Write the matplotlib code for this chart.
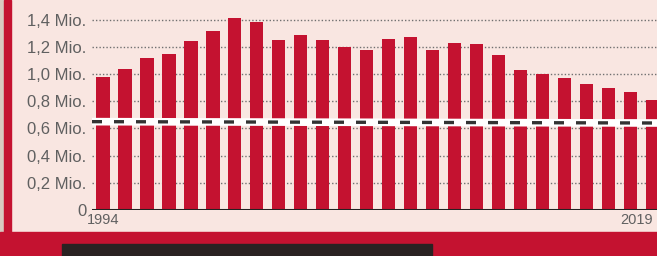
import matplotlib
matplotlib.use("Agg")
import matplotlib.pyplot as plt
from matplotlib.patches import Rectangle
import numpy as np

years = list(range(1994, 2020))
values = [0.98, 1.04, 1.12, 1.15, 1.24, 1.32, 1.41, 1.38, 1.25, 1.29, 1.25, 1.20,
          1.18, 1.26, 1.27, 1.18, 1.23, 1.22, 1.14, 1.03, 1.00, 0.97, 0.93, 0.90,
          0.87, 0.81]
ref_line = [0.65, 0.64]  # dashed reference line (start, end)
yticks = [0, 0.2, 0.4, 0.6, 0.8, 1.0, 1.2, 1.4]
ytick_labels = ["0", "0,2 Mio.", "0,4 Mio.", "0,6 Mio.", "0,8 Mio.", "1,0 Mio.", "1,2 Mio.", "1,4 Mio."]
xtick_show = {1994: "1994", 2019: "2019"}

RED = "#C41230"
PINK = "#F9E6E1"
GRAY = "#606060"

W, H = 657, 256
fig = plt.figure(figsize=(W / 100, H / 100), dpi=100)
fig.patch.set_facecolor(PINK)

# decorative frame (red border left and bottom, dark strip below)
fig.patches.append(Rectangle((0, 0), 4 / W, 1, transform=fig.transFigure, color="#d9c9c0", zorder=0))
fig.patches.append(Rectangle((4 / W, 0), 7 / W, 1, transform=fig.transFigure, color=RED, zorder=0))
fig.patches.append(Rectangle((0, 0), 1, 24 / H, transform=fig.transFigure, color=RED, zorder=0))
fig.patches.append(Rectangle((62 / W, 0), 370 / W, 12 / H, transform=fig.transFigure, color="#2a2222", zorder=0))

# axes: left at 92 px, baseline at y=210 px
ax_left, ax_right = 92, 657
ax_bottom_px, ax_top_px = 210, 0
ax = fig.add_axes([ax_left / W, 1 - ax_bottom_px / H, (ax_right - ax_left) / W, (ax_bottom_px - ax_top_px) / H])
ax.set_facecolor("none")

x = np.arange(len(years))
ax.bar(x, values, width=0.6, color=RED, zorder=2)

for t in yticks[1:]:
    ax.axhline(t, color="#707070", linestyle=(0, (1, 1.5)), linewidth=1.0, zorder=1)
ax.axhline(0, color="#222222", linewidth=2.2, zorder=4)

line_x = [x[0] - 0.5, x[-1] + 0.5]
ax.plot(line_x, ref_line, color="white", linewidth=5.5, solid_capstyle="butt", zorder=5)
ax.plot(line_x, ref_line, color="#333333", linewidth=2.4, dashes=(3, 3.6), zorder=6)

ax.set_xlim(-0.5, len(years) - 0.8)
ax.set_ylim(0, 1.545)
ax.set_yticks(yticks)
ax.set_yticklabels(ytick_labels)
ax.set_xticks([x[years.index(y)] for y in xtick_show])
ax.set_xticklabels(list(xtick_show.values()))
for s in ax.spines.values():
    s.set_visible(False)
ax.tick_params(axis="y", length=0, pad=4, labelsize=12, labelcolor=GRAY)
ax.tick_params(axis="x", length=0, pad=2, labelsize=10.5, labelcolor=GRAY)
for lab in ax.get_yticklabels() + ax.get_xticklabels():
    lab.set_fontfamily("Liberation Sans")
xl = ax.get_xticklabels()
xl[0].set_horizontalalignment("center")
xl[-1].set_horizontalalignment("right")

fig.savefig("out.png", dpi=100, facecolor=fig.get_facecolor())
